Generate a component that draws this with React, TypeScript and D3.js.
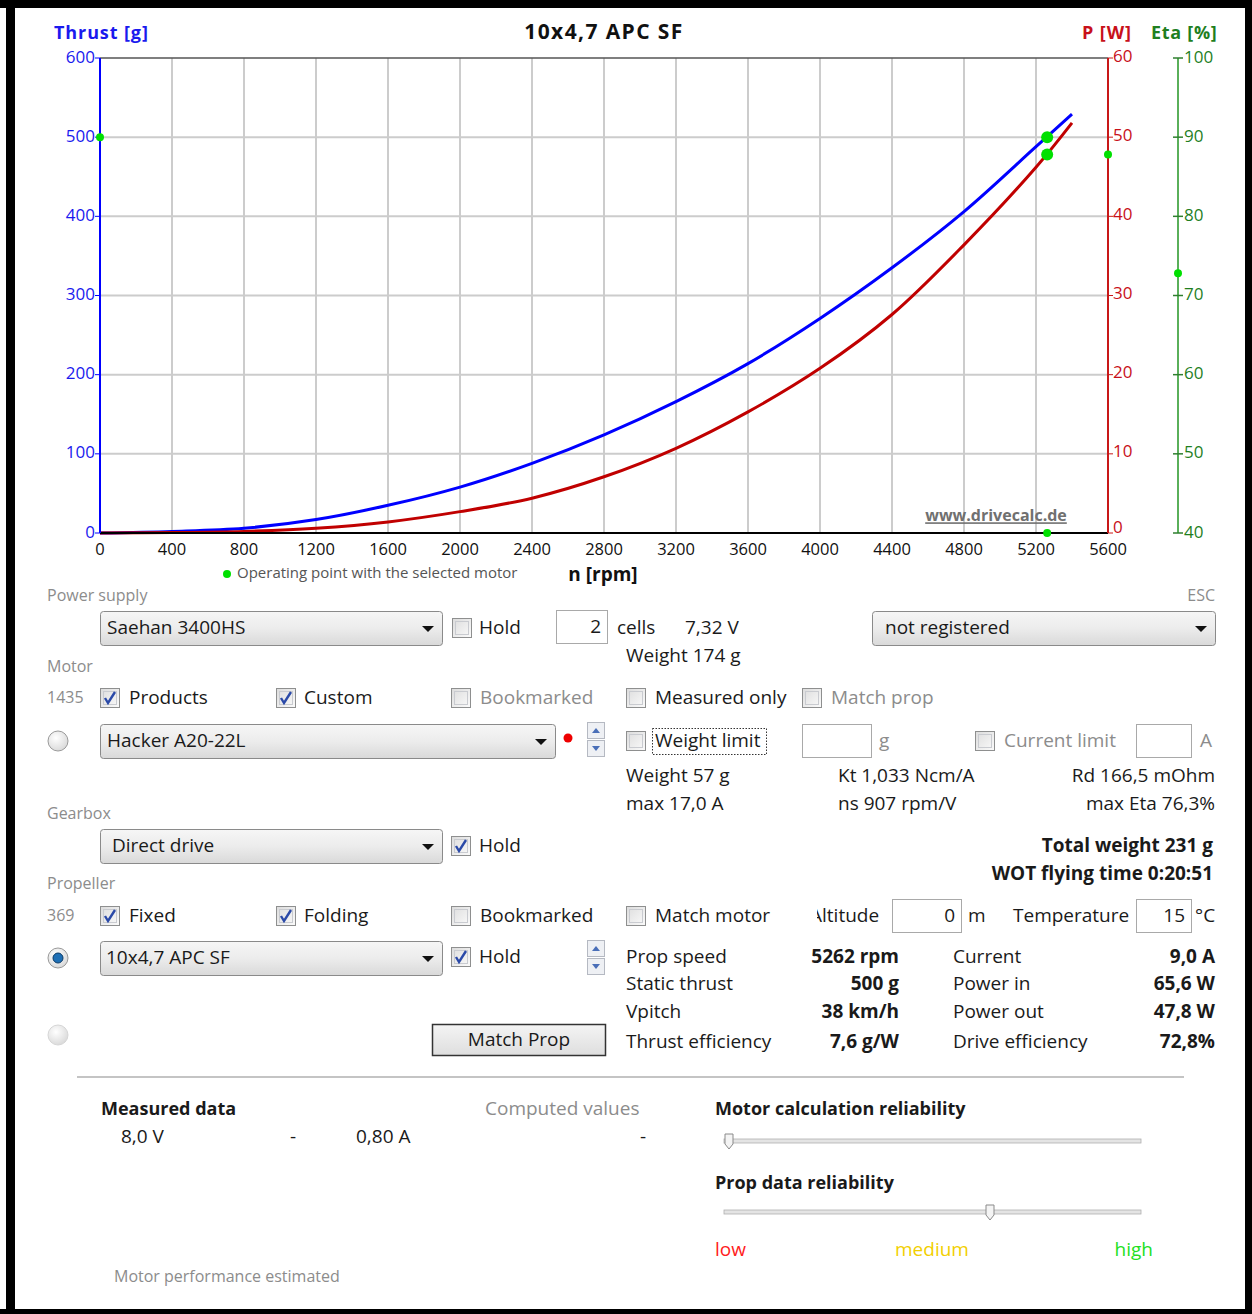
import React from 'react';
import * as d3 from 'd3';

// (prop 10x4,7 APC SF)
const rpm = [0, 400, 800, 1200, 1600, 2000, 2400, 2800, 3200, 3600, 4000, 4400, 4800, 5200, 5400];
const thrust = [0, 2, 6, 17, 35, 58, 88, 124, 166, 214, 271, 335, 406, 488, 529];
const power = [0, 0.05, 0.2, 0.6, 1.4, 2.7, 4.4, 7.1, 10.7, 15.3, 20.8, 27.6, 36.4, 46.2, 51.8];

const rpmTicks = [0, 400, 800, 1200, 1600, 2000, 2400, 2800, 3200, 3600, 4000, 4400, 4800, 5200, 5600];
const thrustTicks = [0, 100, 200, 300, 400, 500, 600];
const powerTicks = [0, 10, 20, 30, 40, 50, 60];
const etaTicks = [40, 50, 60, 70, 80, 90, 100];

// operating point with the selected motor
const opRpm = 5262;
const opThrust = 500;
const opPower = 47.8;
const opEta = 72.8;

const resultLabels = ['Prop speed', 'Static thrust', 'Vpitch', 'Thrust efficiency'];
const resultValues = ['5262 rpm', '500 g', '38 km/h', '7,6 g/W'];
const elecLabels = ['Current', 'Power in', 'Power out', 'Drive efficiency'];
const elecValues = ['9,0 A', '65,6 W', '47,8 W', '72,8%'];
const resultRows = [958, 985, 1013, 1043];

const FONT = "'Open Sans', 'DejaVu Sans', sans-serif";
const INK = '#1a1a1a';
const GREY = '#8c8c8c';

const T = (p: any) => (
  <text fontFamily={FONT} fontSize={19} fill={INK} dominantBaseline="middle" {...p} />
);

const Checkbox = ({ x, y, checked }: { x: number; y: number; checked?: boolean }) => (
  <g>
    <rect x={x + 0.5} y={y + 0.5} width={19} height={19} fill="url(#cbFill)" stroke="#8e8f8f" />
    <rect x={x + 3.5} y={y + 3.5} width={13} height={13} fill="none" stroke="#c9cbd0" />
    {checked && (
      <path
        d={`M${x + 5},${y + 10} L${x + 8},${y + 15} L${x + 15},${y + 4}`}
        fill="none"
        stroke="#2b4aa8"
        strokeWidth={2.4}
      />
    )}
  </g>
);

const Radio = ({ cx, cy, selected, faded }: { cx: number; cy: number; selected?: boolean; faded?: boolean }) => (
  <g>
    <circle cx={cx} cy={cy} r={10} fill="url(#radioFill)" stroke={faded ? '#d6d6d6' : '#9a9a9a'} />
    {selected && <circle cx={cx} cy={cy} r={5} fill="#1e6fb5" stroke="#0b3a66" />}
  </g>
);

const Combo = ({ x, y, w, text, tx = 8 }: { x: number; y: number; w: number; text: string; tx?: number }) => (
  <g>
    <rect x={x + 0.5} y={y + 0.5} width={w} height={34} rx={3} fill="url(#comboFill)" stroke="#8a8a8a" />
    <T x={x + tx} y={y + 18}>{text}</T>
    <path d={`M${x + w - 20},${y + 15} h12 l-6,6 z`} fill="#111" />
  </g>
);

const Box = ({ x, y, w, text }: { x: number; y: number; w: number; text?: string }) => (
  <g>
    <rect x={x + 0.5} y={y + 0.5} width={w} height={33} fill="#fff" stroke="#a9a9a9" />
    {text && (
      <T x={x + w - 6} y={y + 18} textAnchor="end">
        {text}
      </T>
    )}
  </g>
);

const Spin = ({ x, y }: { x: number; y: number }) => (
  <g>
    <rect x={x + 0.5} y={y + 0.5} width={17} height={16} fill="#eef0f4" stroke="#b5b9c2" />
    <rect x={x + 0.5} y={y + 18.5} width={17} height={16} fill="#eef0f4" stroke="#b5b9c2" />
    <path d={`M${x + 5},${y + 11} h8 l-4,-5 z`} fill="#4a6fb8" />
    <path d={`M${x + 5},${y + 24} h8 l-4,5 z`} fill="#4a6fb8" />
  </g>
);

const Slider = ({ x1, x2, y, thumb }: { x1: number; x2: number; y: number; thumb: number }) => (
  <g>
    <rect x={x1} y={y - 2} width={x2 - x1} height={4} fill="#e4e4e4" stroke="#b0b0b0" strokeWidth={0.8} />
    <path
      d={`M${thumb - 4},${y - 7} h8 v10 l-4,5 l-4,-5 z`}
      fill="#f4f4f4"
      stroke="#8a8a8a"
    />
  </g>
);

export default function App() {
  const x = d3.scaleLinear().domain([0, 5600]).range([100, 1108]);
  const yThrust = d3.scaleLinear().domain([0, 600]).range([533, 58]);
  const yPower = d3.scaleLinear().domain([0, 60]).range([533, 58]);
  const yEta = d3.scaleLinear().domain([40, 100]).range([533, 58]);

  const thrustLine = d3
    .line<number>()
    .x((d, i) => x(rpm[i]))
    .y(d => yThrust(d))
    .curve(d3.curveCatmullRom);
  const powerLine = d3
    .line<number>()
    .x((d, i) => x(rpm[i]))
    .y(d => yPower(d))
    .curve(d3.curveCatmullRom);

  const [x0, x1] = x.range();
  const [yb, yt] = yThrust.range();

  return (
    <svg
      width={1252}
      height={1314}
      style={{ position: 'absolute', left: 0, top: 0, background: '#fff' }}
      fontFamily={FONT}
    >
      <defs>
        <linearGradient id="comboFill" x1="0" y1="0" x2="0" y2="1">
          <stop offset="0" stopColor="#f6f6f6" />
          <stop offset="0.5" stopColor="#ececec" />
          <stop offset="1" stopColor="#d9d9d9" />
        </linearGradient>
        <linearGradient id="cbFill" x1="0" y1="0" x2="1" y2="1">
          <stop offset="0" stopColor="#dcdcdc" />
          <stop offset="1" stopColor="#fbfbfb" />
        </linearGradient>
        <radialGradient id="radioFill" cx="0.4" cy="0.35" r="0.7">
          <stop offset="0" stopColor="#ffffff" />
          <stop offset="1" stopColor="#d8d8d8" />
        </radialGradient>
        <linearGradient id="btnFill" x1="0" y1="0" x2="0" y2="1">
          <stop offset="0" stopColor="#f4f4f4" />
          <stop offset="1" stopColor="#dedede" />
        </linearGradient>
        <clipPath id="altClip">
          <rect x={817} y={895} width={80} height={40} />
        </clipPath>
      </defs>

      {/* window frame */}
      <rect x={0} y={0} width={1252} height={8} fill="#000" />
      <rect x={6} y={0} width={9} height={1314} fill="#000" />
      <rect x={1245} y={0} width={7} height={1314} fill="#000" />
      <rect x={0} y={1309} width={1252} height={5} fill="#000" />

      {/* grid */}
      {rpmTicks.slice(1, -1).map(t => (
        <line key={'gx' + t} x1={x(t)} x2={x(t)} y1={yt} y2={yb} stroke="#cccccc" strokeWidth={2} />
      ))}
      {thrustTicks.slice(1, -1).map(t => (
        <line key={'gy' + t} x1={x0} x2={x1} y1={yThrust(t)} y2={yThrust(t)} stroke="#cccccc" strokeWidth={2} />
      ))}
      <line x1={x0} x2={x1} y1={yt} y2={yt} stroke="#555" strokeWidth={1.5} />

      {/* curves */}
      <path d={thrustLine(thrust) || ''} fill="none" stroke="#0000ff" strokeWidth={3} />
      <path d={powerLine(power) || ''} fill="none" stroke="#c00000" strokeWidth={3} />

      {/* axes */}
      <line x1={x0} x2={x1} y1={yb} y2={yb} stroke="#000" strokeWidth={2} />
      <line x1={x0} x2={x0} y1={yt} y2={yb} stroke="#0000ff" strokeWidth={2} />
      <line x1={x1} x2={x1} y1={yt} y2={yb} stroke="#c81818" strokeWidth={2} />
      <line x1={1178} x2={1178} y1={yt} y2={yb} stroke="#5aaf5a" strokeWidth={2} />

      {thrustTicks.map(t => (
        <g key={'tt' + t}>
          <line x1={x0 - 5} x2={x0} y1={yThrust(t)} y2={yThrust(t)} stroke="#0000ff" />
          <text x={x0 - 5} y={yThrust(t)} textAnchor="end" dominantBaseline="middle" fontSize={17} fill="#1a1aee">
            {t}
          </text>
        </g>
      ))}
      {powerTicks.map(t => (
        <g key={'pt' + t}>
          <line x1={x1} x2={x1 + 5} y1={yPower(t)} y2={yPower(t)} stroke="#c81818" />
          <text x={x1 + 5} y={yPower(t) - (t === 0 ? 5 : 1)} dominantBaseline="middle" fontSize={17} fill="#c8101a">
            {t}
          </text>
        </g>
      ))}
      {etaTicks.map(t => (
        <g key={'et' + t}>
          <line x1={1173} x2={1183} y1={yEta(t)} y2={yEta(t)} stroke="#2f7f2f" strokeWidth={1.5} />
          <text x={1184} y={yEta(t)} dominantBaseline="middle" fontSize={17} fill="#1f7f1f">
            {t}
          </text>
        </g>
      ))}
      {rpmTicks.map(t => (
        <text key={'xt' + t} x={x(t)} y={yb + 18} textAnchor="middle" dominantBaseline="middle" fontSize={16.5} fill="#111">
          {t}
        </text>
      ))}

      {/* axis titles */}
      <text x={54} y={34} fontSize={18} fontWeight="bold" letterSpacing={0.9} fill="#1a1aee" dominantBaseline="middle">Thrust [g]</text>
      <text x={604} y={33} fontSize={21} fontWeight="bold" letterSpacing={1.4} fill="#111" textAnchor="middle" dominantBaseline="middle">10x4,7 APC SF</text>
      <text x={1082} y={34} fontSize={18} fontWeight="bold" letterSpacing={0.9} fill="#c8101a" dominantBaseline="middle">P [W]</text>
      <text x={1151} y={34} fontSize={18} fontWeight="bold" letterSpacing={0.7} fill="#1f7f1f" dominantBaseline="middle">Eta [%]</text>
      <text x={603} y={576} fontSize={19} fontWeight="bold" fill="#111" textAnchor="middle" dominantBaseline="middle">n [rpm]</text>
      <text x={996} y={517} fontSize={16} fontWeight="bold" fill="#707070" textAnchor="middle" dominantBaseline="middle" textDecoration="underline">www.drivecalc.de</text>

      {/* operating point */}
      <circle cx={x(opRpm)} cy={yThrust(opThrust)} r={6} fill="#00e000" />
      <circle cx={x(opRpm)} cy={yPower(opPower)} r={6} fill="#00e000" />
      <circle cx={x0} cy={yThrust(opThrust)} r={4} fill="#00e000" />
      <circle cx={x1} cy={yPower(opPower)} r={4} fill="#00e000" />
      <circle cx={1178} cy={yEta(opEta)} r={4} fill="#00e000" />
      <circle cx={x(opRpm)} cy={yb} r={4} fill="#00e000" />
      <circle cx={227} cy={574} r={4} fill="#00e000" />
      <text x={237} y={574} fontSize={15} fill="#555" dominantBaseline="middle">Operating point with the selected motor</text>

      {/* power supply */}
      <T x={47} y={597} fontSize={16} fill={GREY}>Power supply</T>
      <T x={1215} y={597} fontSize={16} fill={GREY} textAnchor="end">ESC</T>
      <Combo x={100} y={611} w={342} text="Saehan 3400HS" tx={7} />
      <Checkbox x={452} y={618} />
      <T x={479} y={629}>Hold</T>
      <Box x={556} y={610} w={51} text="2" />
      <T x={617} y={629}>cells</T>
      <T x={685} y={629}>7,32 V</T>
      <T x={626} y={657}>Weight 174 g</T>
      <Combo x={872} y={611} w={343} text="not registered" tx={13} />

      {/* motor */}
      <T x={47} y={668} fontSize={16} fill={GREY}>Motor</T>
      <T x={47} y={699} fontSize={16} fill={GREY}>1435</T>
      <Checkbox x={100} y={688} checked />
      <T x={129} y={699}>Products</T>
      <Checkbox x={276} y={688} checked />
      <T x={304} y={699}>Custom</T>
      <Checkbox x={451} y={688} />
      <T x={480} y={699} fill={GREY}>Bookmarked</T>
      <Checkbox x={626} y={688} />
      <T x={655} y={699}>Measured only</T>
      <Checkbox x={802} y={688} />
      <T x={831} y={699} fill={GREY}>Match prop</T>

      <Radio cx={58} cy={741} />
      <Combo x={100} y={724} w={455} text="Hacker A20-22L" tx={7} />
      <circle cx={568} cy={738} r={4.5} fill="#ee0000" />
      <Spin x={587} y={722} />
      <Checkbox x={626} y={731} />
      <rect x={652.5} y={728.5} width={114} height={26} fill="none" stroke="#333" strokeDasharray="1.5 1.5" />
      <T x={655} y={742}>Weight limit</T>
      <Box x={802} y={724} w={69} />
      <T x={879} y={742} fill={GREY}>g</T>
      <Checkbox x={975} y={731} />
      <T x={1004} y={742} fill={GREY}>Current limit</T>
      <Box x={1136} y={724} w={55} />
      <T x={1200} y={742} fill={GREY}>A</T>

      <T x={626} y={777}>Weight 57 g</T>
      <T x={838} y={777}>Kt 1,033 Ncm/A</T>
      <T x={1215} y={777} textAnchor="end">Rd 166,5 mOhm</T>
      <T x={626} y={805}>max 17,0 A</T>
      <T x={838} y={805}>ns 907 rpm/V</T>
      <T x={1215} y={805} textAnchor="end">max Eta 76,3%</T>

      {/* gearbox */}
      <T x={47} y={815} fontSize={16} fill={GREY}>Gearbox</T>
      <Combo x={100} y={829} w={342} text="Direct drive" tx={12} />
      <Checkbox x={451} y={836} checked />
      <T x={479} y={847}>Hold</T>
      <T x={1213} y={847} textAnchor="end" fontWeight="bold">Total weight 231 g</T>
      <T x={1213} y={875} textAnchor="end" fontWeight="bold">WOT flying time 0:20:51</T>

      {/* propeller */}
      <T x={47} y={885} fontSize={16} fill={GREY}>Propeller</T>
      <T x={47} y={917} fontSize={16} fill={GREY}>369</T>
      <Checkbox x={100} y={906} checked />
      <T x={129} y={917}>Fixed</T>
      <Checkbox x={276} y={906} checked />
      <T x={304} y={917}>Folding</T>
      <Checkbox x={451} y={906} />
      <T x={480} y={917}>Bookmarked</T>
      <Checkbox x={626} y={906} />
      <T x={655} y={917}>Match motor</T>
      <g clipPath="url(#altClip)">
        <T x={810} y={917}>Altitude</T>
      </g>
      <Box x={892} y={899} w={69} text="0" />
      <T x={968} y={917}>m</T>
      <T x={1013} y={917}>Temperature</T>
      <Box x={1136} y={899} w={55} text="15" />
      <T x={1195} y={917}>°C</T>

      <Radio cx={58} cy={958} selected />
      <Combo x={100} y={941} w={342} text="10x4,7 APC SF" tx={6} />
      <Checkbox x={451} y={947} checked />
      <T x={479} y={958}>Hold</T>
      <Spin x={587} y={940} />

      {resultLabels.map((l, i) => (
        <T key={l} x={626} y={resultRows[i]}>{l}</T>
      ))}
      {resultValues.map((v, i) => (
        <T key={v} x={899} y={resultRows[i]} textAnchor="end" fontWeight="bold">{v}</T>
      ))}
      {elecLabels.map((l, i) => (
        <T key={l} x={953} y={resultRows[i]}>{l}</T>
      ))}
      {elecValues.map((v, i) => (
        <T key={v} x={1215} y={resultRows[i]} textAnchor="end" fontWeight="bold">{v}</T>
      ))}

      <Radio cx={58} cy={1035} faded />
      <rect x={432.5} y={1024.5} width={173} height={31} fill="url(#btnFill)" stroke="#333" strokeWidth={1.5} />
      <T x={519} y={1041} textAnchor="middle">Match Prop</T>

      <line x1={77} x2={1184} y1={1077} y2={1077} stroke="#c4c4c4" strokeWidth={2} />

      {/* bottom panel */}
      <T x={101} y={1110} fontSize={18} fontWeight="bold">Measured data</T>
      <T x={485} y={1110} fill={GREY}>Computed values</T>
      <T x={715} y={1110} fontSize={18} fontWeight="bold">Motor calculation reliability</T>
      <T x={121} y={1138}>8,0 V</T>
      <T x={290} y={1138}>-</T>
      <T x={356} y={1138}>0,80 A</T>
      <T x={640} y={1138}>-</T>
      <Slider x1={724} x2={1141} y={1141} thumb={729} />
      <T x={715} y={1184} fontSize={18} fontWeight="bold">Prop data reliability</T>
      <Slider x1={724} x2={1141} y={1212} thumb={990} />
      <T x={715} y={1251} fill="#ff2020">low</T>
      <T x={932} y={1251} fill="#f2cf00" textAnchor="middle">medium</T>
      <T x={1153} y={1251} fill="#22e022" textAnchor="end">high</T>
      <T x={114} y={1278} fontSize={16} fill={GREY}>Motor performance estimated</T>
    </svg>
  );
}
